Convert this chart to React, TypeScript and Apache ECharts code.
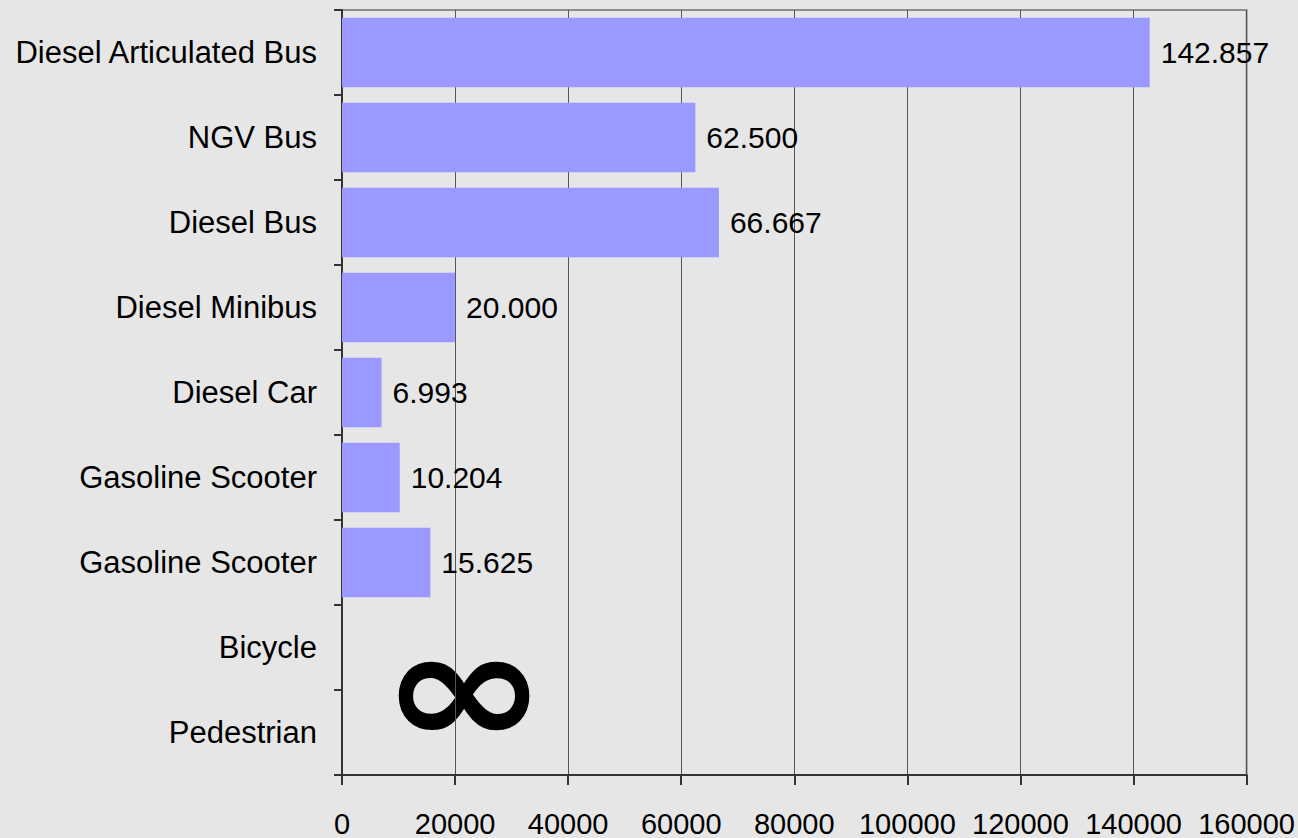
import React, { useEffect, useRef } from "react";
import * as echarts from "echarts";

const categories = [
  "Diesel Articulated Bus",
  "NGV Bus",
  "Diesel Bus",
  "Diesel Minibus",
  "Diesel Car",
  "Gasoline Scooter",
  "Gasoline Scooter",
  "Bicycle",
  "Pedestrian",
];
const values: (number | null)[] = [142857, 62500, 66667, 20000, 6993, 10204, 15625, null, null];
const xMin = 0;
const xMax = 160000;
const xInterval = 20000;
const infinityLabel = "∞";

const FONT = "'Liberation Sans', Arial, sans-serif";

function formatDots(v: number): string {
  return String(Math.round(v)).replace(/\B(?=(\d{3})+(?!\d))/g, ".");
}

export default function App() {
  const ref = useRef<HTMLDivElement>(null);
  useEffect(() => {
    if (!ref.current) return;
    const chart = echarts.init(ref.current, undefined, { renderer: "svg" });
    chart.setOption({
      animation: false,
      backgroundColor: "#e6e6e6",
      textStyle: { fontFamily: FONT },
      grid: {
        left: 342,
        top: 10,
        right: 51,
        bottom: 58,
        show: true,
        borderColor: "#8c8c8c",
        borderWidth: 2,
        containLabel: false,
      },
      xAxis: {
        type: "value",
        min: xMin,
        max: xMax,
        interval: xInterval,
        axisLine: { show: true, lineStyle: { color: "#333", width: 2 } },
        axisTick: { show: true, length: 10, lineStyle: { color: "#333", width: 2 } },
        splitLine: { show: true, lineStyle: { color: "#555", width: 1 } },
        axisLabel: {
          color: "#000",
          fontSize: 29,
          fontFamily: FONT,
          margin: 34,
          formatter: (v: number) => String(v),
        },
      },
      yAxis: {
        type: "category",
        inverse: true,
        data: categories,
        axisLine: { show: true, lineStyle: { color: "#333", width: 2 } },
        axisTick: { show: true, length: 8, lineStyle: { color: "#333", width: 2 } },
        splitLine: { show: false },
        axisLabel: { color: "#000", fontSize: 31, fontFamily: FONT, margin: 25 },
      },
      series: [
        {
          type: "bar",
          data: values,
          barCategoryGap: "18%",
          itemStyle: { color: "#9999ff" },
          label: {
            show: true,
            position: "right",
            distance: 11,
            color: "#000",
            fontSize: 30,
            fontFamily: FONT,
            formatter: (p: any) => (p.value == null ? "" : formatDots(p.value)),
          },
        },
      ],
      graphic: [
        {
          type: "text",
          x: 464,
          y: 688,
          scaleX: 1.22,
          style: {
            text: infinityLabel,
            fontSize: 165,
            fontFamily: "'DejaVu Sans', sans-serif",
            fontWeight: "bold",
            fill: "#000",
            align: "center",
            verticalAlign: "middle",
          },
        },
      ],
    });
    return () => chart.dispose();
  }, []);
  return (
    <div
      ref={ref}
      style={{ position: "fixed", left: 0, top: 0, width: 1298, height: 838 }}
    />
  );
}
